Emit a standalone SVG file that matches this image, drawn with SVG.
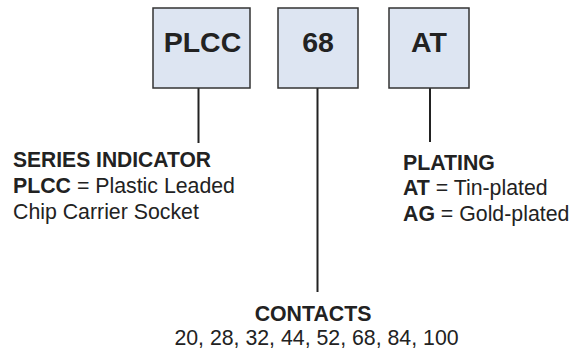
<svg xmlns="http://www.w3.org/2000/svg" width="577" height="350" viewBox="0 0 577 350">
<style>
.box{fill:#dde5f2;stroke:#333;stroke-width:1.5}
.lbl{font-family:"Liberation Sans",Arial,sans-serif;font-weight:bold;font-size:28.5px;fill:#222;text-anchor:middle}
.t{font-family:"Liberation Sans",Arial,sans-serif;font-size:21.3px;fill:#222}
.b{font-weight:bold}
.conn line{stroke:#222;stroke-width:2}
</style>
<rect width="577" height="350" fill="#fff"/>
<g class="conn">
<line x1="198.5" y1="88" x2="198.5" y2="143"/>
<line x1="317.5" y1="88" x2="317.5" y2="292"/>
<line x1="430" y1="88" x2="430" y2="142"/>
</g>
<g id="node-plcc">
<rect class="box" x="153" y="8" width="97" height="80"/>
<text class="lbl" x="202.5" y="52">PLCC</text>
</g>
<g id="node-68">
<rect class="box" x="278" y="8" width="80" height="80"/>
<text class="lbl" x="318" y="52">68</text>
</g>
<g id="node-at">
<rect class="box" x="389" y="8" width="80" height="80"/>
<text class="lbl" x="429" y="52">AT</text>
</g>
<g id="series">
<text class="t b" x="13" y="167" textLength="198" lengthAdjust="spacingAndGlyphs">SERIES INDICATOR</text>
<text class="t" x="13" y="193"><tspan class="b">PLCC</tspan> = Plastic Leaded</text>
<text class="t" x="13" y="219">Chip Carrier Socket</text>
</g>
<g id="plating">
<text class="t b" x="403" y="169.5">PLATING</text>
<text class="t" x="403" y="195"><tspan class="b">AT</tspan> = Tin-plated</text>
<text class="t" x="403" y="221"><tspan class="b">AG</tspan> = Gold-plated</text>
</g>
<g id="contacts">
<text class="t b" x="313" y="321" text-anchor="middle">CONTACTS</text>
<text class="t" x="316.5" y="345" text-anchor="middle">20, 28, 32, 44, 52, 68, 84, 100</text>
</g>
</svg>
